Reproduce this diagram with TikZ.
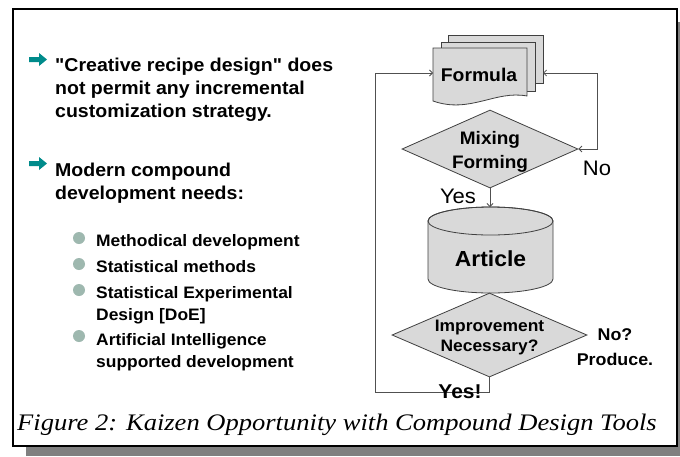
\documentclass[tikz,border=0pt]{standalone}
\usepackage{fontspec}
\setmainfont{Liberation Serif}[FakeStretch=1.12]
\setsansfont{Liberation Sans}[FakeStretch=1.05,Ligatures=TeXOff]
\usetikzlibrary{shapes.geometric,arrows.meta}
\definecolor{tealarrow}{RGB}{0,139,139}
\definecolor{dotgreen}{RGB}{158,184,175}
\definecolor{shapefill}{RGB}{217,217,217}
\definecolor{shapeline}{RGB}{64,64,64}
\definecolor{connline}{RGB}{80,80,80}
\definecolor{shadowgray}{RGB}{128,128,128}
\begin{document}
\begin{tikzpicture}[x=1pt,y=-1pt,
  tmain/.style={anchor=base west,inner sep=0pt,font=\fontsize{18.6}{20}\selectfont\sffamily\bfseries},
  tsub/.style={anchor=base west,inner sep=0pt,font=\fontsize{16.6}{18}\selectfont\sffamily\bfseries},
  flabel/.style={anchor=base,inner sep=0pt,font=\fontsize{#1}{#1}\selectfont\sffamily\bfseries},
  rlabel/.style={anchor=base,inner sep=0pt,font=\fontsize{#1}{#1}\selectfont\sffamily},
  shapebox/.style={draw=shapeline,fill=shapefill,line width=0.8pt},
  decision/.style={diamond,shapebox,inner sep=0pt},
  conn/.style={draw=connline,line width=0.8pt},
  tip/.style={-{Straight Barb[length=3pt,width=6pt]}},
  arrowbullet/.style={fill=tealarrow},
  dotbullet/.style={fill=dotgreen}
]
\useasboundingbox (0,0) rectangle (680,456);
% shadow and frame
\fill[shadowgray] (26,22) rectangle (680,456);
\draw[line width=1.2pt,fill=white] (13,9) rectangle (677,446);

% left bullets
\fill[arrowbullet] (29,57) -- (39,57) -- (39,53) -- (47,59.5) -- (39,66) -- (39,62) -- (29,62) -- cycle;
\fill[arrowbullet] (29,161) -- (39,161) -- (39,157) -- (47,163.5) -- (39,170) -- (39,166) -- (29,166) -- cycle;
\node[tmain] (m1) at (55,71) {"Creative recipe design" does};
\node[tmain] (m2) at (55,94) {not permit any incremental};
\node[tmain] (m3) at (55,117) {customization strategy.};
\node[tmain] (m4) at (55,176) {Modern compound};
\node[tmain] (m5) at (55,199) {development needs:};

\fill[dotbullet] (79,238) circle[radius=6];
\fill[dotbullet] (79,264) circle[radius=6];
\fill[dotbullet] (79,290) circle[radius=6];
\fill[dotbullet] (79,336) circle[radius=6];
\node[tsub] (s1) at (96,246) {Methodical development};
\node[tsub] (s2) at (96,272) {Statistical methods};
\node[tsub] (s3) at (96,298) {Statistical Experimental};
\node[tsub] (s4) at (96,320) {Design [DoE]};
\node[tsub] (s5) at (96,345) {Artificial Intelligence};
\node[tsub] (s6) at (96,367) {supported development};

% Formula document stack
\filldraw[shapebox] (448,35) -- (543,35) -- (543,83) -- (448,83) -- cycle;
\filldraw[shapebox] (441,42) -- (535,42) -- (535,91) -- (441,91) -- cycle;
\filldraw[shapebox] (433,48) -- (527,48) -- (527,96) .. controls (495,90) and (470,114) .. (433,101) -- cycle;
\node[flabel=18.4] (formula) at (479,81) {Formula};
\coordinate (fl) at (433,73);
\coordinate (fr) at (543,73);

% decision 1
\node[decision,minimum width=176pt,minimum height=78pt] (d1) at (490,149) {};
\node[flabel=18.1] (mix) at (490,144) {Mixing};
\node[flabel=18.1] (form) at (490,168) {Forming};

% cylinder
\filldraw[shapebox] (428,221) -- (428,279) arc[start angle=180,end angle=0,x radius=62.5,y radius=14]
  -- (553,221) arc[start angle=0,end angle=-180,x radius=62.5,y radius=14] -- cycle;
\draw[shapeline,line width=0.8pt] (490.5,221) ellipse[x radius=62.5,y radius=14];
\node[flabel=21.8] (article) at (490.5,266) {Article};
\coordinate (cyltop) at (490,207);

% decision 2
\node[decision,minimum width=195pt,minimum height=84pt] (d2) at (489.5,335) {};
\node[flabel=16.6] (imp) at (489.5,331) {Improvement};
\node[flabel=16.6] (nec) at (489.5,351) {Necessary?};

% connectors
\draw[conn,tip] (d1.south) -- (cyltop);
\draw[conn,{Straight Barb[length=3pt,width=6pt]}-{Straight Barb[length=3pt,width=6pt]}] (d1.east) -- ++(19,0) |- (fr);
\coordinate (lp1) at (375,392);
\coordinate (lp2) at (375,73);
\draw[conn,tip] (d2.south) |- (lp1) -- (lp2) -- (fl);

% labels
\node[rlabel=21] (no) at (597,175) {No};
\node[rlabel=21] (yes) at (458,203) {Yes};
\node[flabel=20] (yes2) at (460,398) {Yes!};
\node[flabel=17] (noq) at (615,340) {No?};
\node[flabel=17] (prod) at (615,365) {Produce.};

% caption
\node[anchor=base west,inner sep=0pt,font=\fontsize{23.7}{26}\selectfont\itshape] (cap) at (17,430) {Figure 2: Kaizen Opportunity with Compound Design Tools};
\end{tikzpicture}
\end{document}
